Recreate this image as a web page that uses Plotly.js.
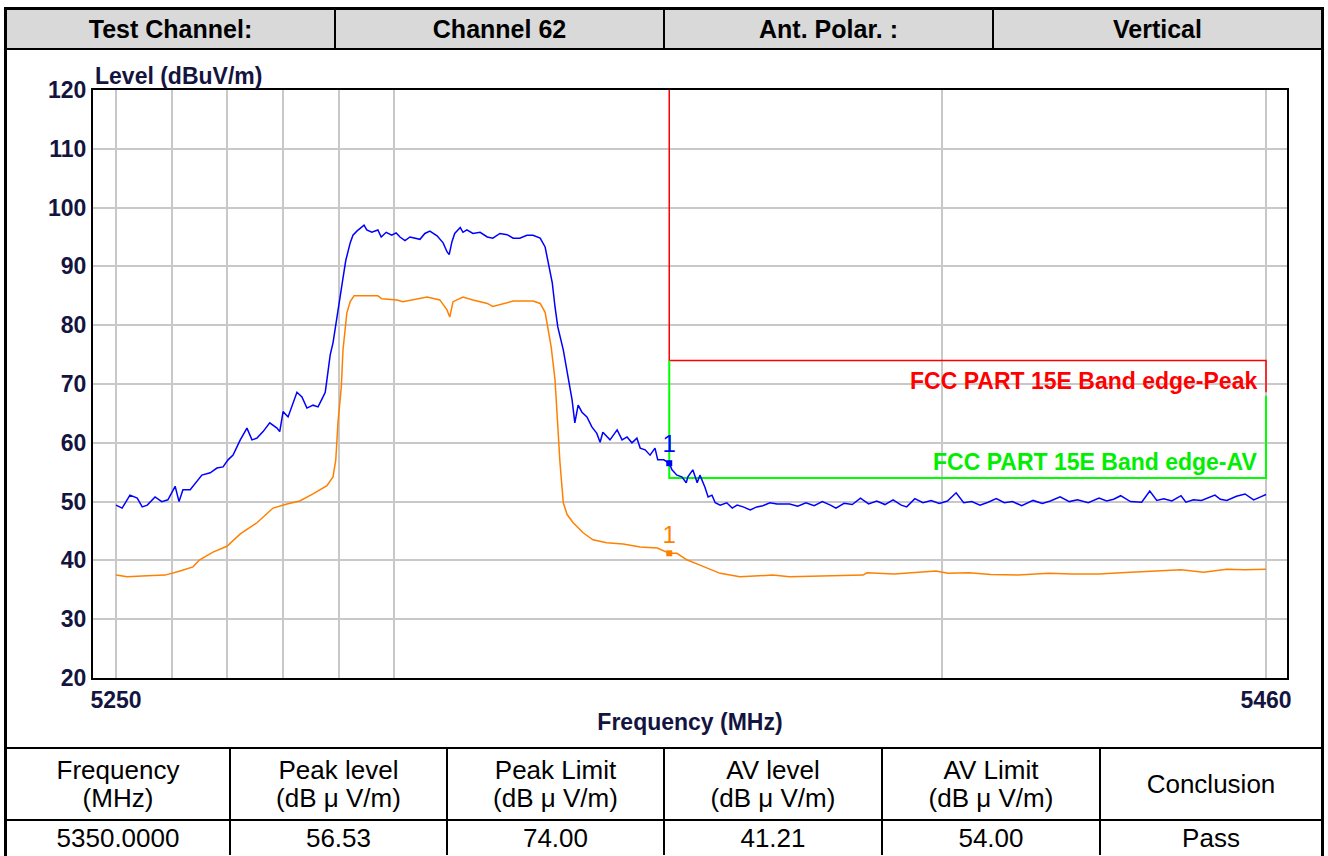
<!DOCTYPE html>
<html>
<head>
<meta charset="utf-8">
<script src="https://cdn.plot.ly/plotly-3.0.1.min.js"></script>
<style>
html,body{margin:0;padding:0;background:#fff;width:1328px;height:856px;overflow:hidden;font-family:"Liberation Sans",Arial,sans-serif;}
#outer{position:absolute;left:4px;top:7px;width:1320px;height:900px;border:3px solid #000;box-sizing:border-box;}
table{position:absolute;border-collapse:collapse;table-layout:fixed;}
#hdr{left:7px;top:10px;width:1314px;}
#hdr td{height:38px;padding:0;background:#d9d9d9;border-bottom:2px solid #000;border-left:2px solid #000;text-align:center;font-weight:bold;font-size:25px;color:#000;}
#res{left:7px;top:747px;width:1314px;}
#res td{padding:0;border-top:2px solid #000;border-left:2px solid #000;text-align:center;font-size:26px;color:#000;line-height:28px;}
#hdr td:first-child,#res td:first-child{border-left:none;}
#res tr.h td{height:70px;}
#res tr.d td{height:34px;}
#chart{position:absolute;left:7px;top:50px;width:1314px;height:697px;}
</style>
</head>
<body>
<div id="outer"></div>
<table id="hdr">
<colgroup><col style="width:328px"><col style="width:329px"><col style="width:329px"><col style="width:328px"></colgroup>
<tr><td>Test Channel:</td><td>Channel 62</td><td>Ant. Polar. :</td><td>Vertical</td></tr>
</table>
<div id="chart"></div>
<table id="res">
<colgroup><col style="width:223px"><col style="width:217px"><col style="width:217px"><col style="width:218px"><col style="width:218px"><col style="width:221px"></colgroup>
<tr class="h"><td>Frequency<br>(MHz)</td><td>Peak level<br>(dB μ V/m)</td><td>Peak Limit<br>(dB μ V/m)</td><td>AV level<br>(dB μ V/m)</td><td>AV Limit<br>(dB μ V/m)</td><td>Conclusion</td></tr>
<tr class="d"><td>5350.0000</td><td>56.53</td><td>74.00</td><td>41.21</td><td>54.00</td><td>Pass</td></tr>
</table>
<script>
// ---- data ----
const peakFreq = [5250.0,5251.1,5252.5,5253.8,5254.7,5255.6,5257.0,5258.2,5259.3,5260.6,5261.3,5262.0,5263.3,5264.2,5265.4,5266.9,5268.1,5269.2,5270.1,5271.0,5272.3,5273.5,5274.4,5275.3,5276.4,5277.6,5278.9,5279.4,5280.0,5280.9,5282.5,5283.4,5284.3,5285.4,5286.3,5287.2,5287.6,5287.9,5288.5,5289.0,5289.7,5290.3,5290.8,5291.3,5292.1,5292.6,5293.3,5294.6,5295.1,5296.0,5297.1,5297.7,5298.6,5299.6,5300.4,5301.1,5302.0,5302.9,5304.7,5305.6,5306.5,5307.8,5308.9,5309.6,5310.0,5310.5,5311.0,5312.0,5312.5,5313.2,5314.3,5315.6,5316.9,5317.9,5319.2,5320.5,5321.6,5322.8,5324.1,5325.2,5326.5,5327.4,5327.9,5328.7,5329.2,5329.7,5330.7,5331.6,5332.3,5332.8,5333.4,5334.1,5335.0,5335.9,5336.8,5337.4,5337.9,5339.2,5340.5,5341.4,5342.3,5343.2,5344.1,5344.7,5345.6,5346.5,5347.4,5347.9,5349.0,5350.0,5350.5,5351.4,5352.3,5353.1,5353.4,5354.3,5355.1,5355.6,5356.5,5357.1,5357.8,5358.4,5359.3,5360.5,5361.5,5362.4,5363.5,5364.8,5366.0,5367.1,5368.4,5369.7,5370.8,5372.0,5373.5,5375.0,5376.5,5378.0,5379.5,5380.5,5382.0,5383.5,5385.0,5386.5,5388.0,5389.5,5391.0,5392.5,5393.5,5395.0,5396.5,5398.0,5399.5,5401.0,5402.6,5404.0,5405.5,5407.0,5408.5,5410.0,5411.5,5413.0,5414.7,5416.8,5418.5,5420.0,5421.8,5423.5,5425.0,5427.0,5429.0,5430.4,5431.7,5433.0,5434.8,5436.9,5438.4,5439.7,5441.0,5442.5,5444.2,5445.1,5446.5,5448.0,5450.5,5451.5,5452.7,5454.5,5456.1,5457.7,5459.0,5460.0];
const peakLevel = [49.4,48.9,51.1,50.6,49.1,49.4,50.8,50.0,50.3,52.6,50.0,52.0,52.0,53.0,54.5,54.9,55.7,55.9,57.1,57.9,60.5,62.5,60.5,60.8,61.9,63.4,62.5,61.9,65.3,64.4,68.6,67.8,65.9,66.4,66.1,67.8,68.6,70.7,75.0,77.0,81.0,84.5,88.0,91.0,94.0,95.3,96.0,97.0,96.2,95.8,96.2,95.0,95.8,95.3,95.7,95.0,94.4,95.0,94.6,95.6,96.0,95.2,94.0,92.5,92.0,94.2,95.6,96.6,95.8,96.2,95.6,95.8,95.0,94.8,95.6,95.4,94.8,94.8,95.3,95.3,94.8,93.3,91.1,87.2,83.1,79.7,75.8,70.7,67.3,63.4,66.4,65.2,64.4,62.7,61.6,60.1,61.8,60.5,62.2,60.5,61.0,60.0,60.8,59.1,58.8,57.9,59.1,57.1,57.1,56.53,55.4,54.5,54.2,53.2,54.2,55.4,53.2,54.5,52.5,50.8,51.1,49.8,49.4,49.8,48.9,49.4,49.1,48.6,49.1,49.3,49.8,49.6,49.6,49.6,49.2,49.8,49.3,50.0,49.4,48.9,49.7,49.5,50.6,49.6,50.1,49.5,50.3,49.4,49.1,50.5,49.8,50.2,49.7,50.1,51.5,49.8,50.0,49.4,49.9,50.5,49.8,50.0,49.3,50.2,49.7,50.1,50.8,50.0,50.3,49.8,50.6,50.1,50.4,51.0,50.0,49.9,51.8,50.2,50.5,50.1,51.0,49.9,50.3,50.2,51.1,50.4,50.2,50.9,51.3,50.3,50.8,51.2];

const avFreq = [5250.0,5252.0,5255.6,5258.8,5261.5,5263.8,5265.0,5267.4,5269.9,5272.3,5275.3,5278.2,5280.7,5283.0,5285.4,5287.9,5289.0,5289.5,5289.9,5290.5,5290.8,5291.5,5292.1,5292.8,5297.1,5297.8,5300.6,5301.6,5306.0,5308.3,5309.6,5310.1,5310.7,5312.5,5314.3,5316.9,5317.9,5321.6,5325.2,5326.5,5327.4,5327.9,5328.5,5329.2,5329.6,5330.1,5330.7,5331.4,5332.5,5334.3,5336.1,5338.6,5341.6,5344.7,5347.8,5350.0,5351.4,5353.2,5355.6,5358.0,5359.3,5362.9,5368.9,5372.0,5376.0,5380.0,5385.5,5386.2,5391.2,5398.9,5401.1,5405.0,5409.0,5414.0,5419.7,5424.0,5429.0,5433.0,5438.4,5444.2,5448.4,5452.7,5456.0,5460.0];
const avLevel = [37.5,37.2,37.4,37.5,38.2,38.9,40.1,41.4,42.4,44.5,46.4,48.9,49.6,50.1,51.3,52.7,54.2,57.1,63.5,69.5,75.8,82.1,84.0,85.0,85.0,84.5,84.3,84.0,84.8,84.3,82.6,81.4,84.0,84.8,84.3,83.7,83.2,84.1,84.1,83.7,82.2,79.7,76.3,70.7,63.4,56.6,49.8,47.8,46.4,44.7,43.5,43.0,42.8,42.3,42.1,41.21,41.2,40.1,39.2,38.2,37.8,37.2,37.5,37.2,37.3,37.4,37.5,37.9,37.7,38.2,37.8,37.9,37.6,37.5,37.8,37.7,37.7,37.9,38.2,38.4,38.0,38.5,38.4,38.5];

const peakLimitFreq = [5350, 5350, 5460, 5460];
const peakLimitLevel = [120, 74, 74, 68.6];
const avLimitFreq = [5350, 5350, 5460, 5460];
const avLimitLevel = [74, 54, 54, 68.0];

const markerFreq = [5350.0];
const markerPeak = [56.53];
const markerAV = [41.21];
const markerLabel = ['1'];

const gridFreqs = [5250, 5260, 5270, 5280, 5290, 5300, 5400, 5460];
const freqTickText = ['5250', '', '', '', '', '', '', '5460'];
const peakLimitName = 'FCC PART 15E Band edge-Peak';
const avLimitName = 'FCC PART 15E Band edge-AV';

// ---- chart ----
const labelFont = {family: 'Liberation Sans, Arial, sans-serif', size: 23, color: '#141440', weight: 'bold'};
const fStart = gridFreqs[0], fEnd = gridFreqs[gridFreqs.length - 1];
const k = (Math.log10(fEnd) - Math.log10(fStart)) / 1150;

const traces = [
  {x: peakLimitFreq, y: peakLimitLevel, mode: 'lines', line: {color: '#ff0000', width: 1.5}, hoverinfo: 'skip'},
  {x: avLimitFreq, y: avLimitLevel, mode: 'lines', line: {color: '#00ff00', width: 2}, hoverinfo: 'skip'},
  {x: avFreq, y: avLevel, mode: 'lines', line: {color: '#ff8000', width: 1.5}},
  {x: peakFreq, y: peakLevel, mode: 'lines', line: {color: '#0000ff', width: 1.5}},
  {x: markerFreq, y: markerPeak, mode: 'markers+text', text: markerLabel, textposition: 'top center',
   marker: {symbol: 'square', size: 6, color: '#0000ff'}, textfont: {family: 'Liberation Sans, Arial', size: 24, color: '#0000ff', weight: 'normal'}},
  {x: markerFreq, y: markerAV, mode: 'markers+text', text: markerLabel, textposition: 'top center',
   marker: {symbol: 'square', size: 6, color: '#ff8000'}, textfont: {family: 'Liberation Sans, Arial', size: 24, color: '#ff8000', weight: 'normal'}}
];

const layout = {
  width: 1314, height: 697,
  margin: {l: 86, r: 34, t: 40, b: 69},
  paper_bgcolor: 'rgba(0,0,0,0)', plot_bgcolor: '#ffffff',
  showlegend: false,
  font: labelFont,
  xaxis: {
    type: 'log',
    range: [Math.log10(fStart) - 23 * k, Math.log10(fEnd) + 21 * k],
    tickmode: 'array', tickvals: gridFreqs, ticktext: freqTickText, tickangle: 0,
    ticks: '', showgrid: true, gridcolor: '#c8c8c8', gridwidth: 2,
    showline: true, mirror: true, linecolor: '#000000', linewidth: 2, zeroline: false,
    tickfont: labelFont,
    title: {text: 'Frequency (MHz)', font: labelFont, standoff: 2}
  },
  yaxis: {
    range: [20, 120], tick0: 20, dtick: 10,
    ticks: '', showgrid: true, gridcolor: '#c8c8c8', gridwidth: 2,
    showline: true, mirror: true, linecolor: '#000000', linewidth: 2, zeroline: false,
    tickfont: labelFont, ticklabelstandoff: 0
  },
  annotations: [
    {xref: 'paper', yref: 'paper', x: 0, y: 1, xanchor: 'left', yanchor: 'bottom', xshift: 0, yshift: -1,
     text: 'Level (dBuV/m)', showarrow: false, font: labelFont},
    {xref: 'x', yref: 'y', x: Math.log10(peakLimitFreq[3]), y: 70.5, xanchor: 'right', yanchor: 'middle', xshift: -7,
     text: peakLimitName, showarrow: false, font: {family: 'Liberation Sans, Arial, sans-serif', size: 23, color: '#ff0000', weight: 'bold'}},
    {xref: 'x', yref: 'y', x: Math.log10(avLimitFreq[3]), y: 56.7, xanchor: 'right', yanchor: 'middle', xshift: -7,
     text: avLimitName, showarrow: false, font: {family: 'Liberation Sans, Arial, sans-serif', size: 23, color: '#00ee00', weight: 'bold'}}
  ]
};

Plotly.newPlot('chart', traces, layout, {displayModeBar: false, staticPlot: true});
</script>
</body>
</html>
